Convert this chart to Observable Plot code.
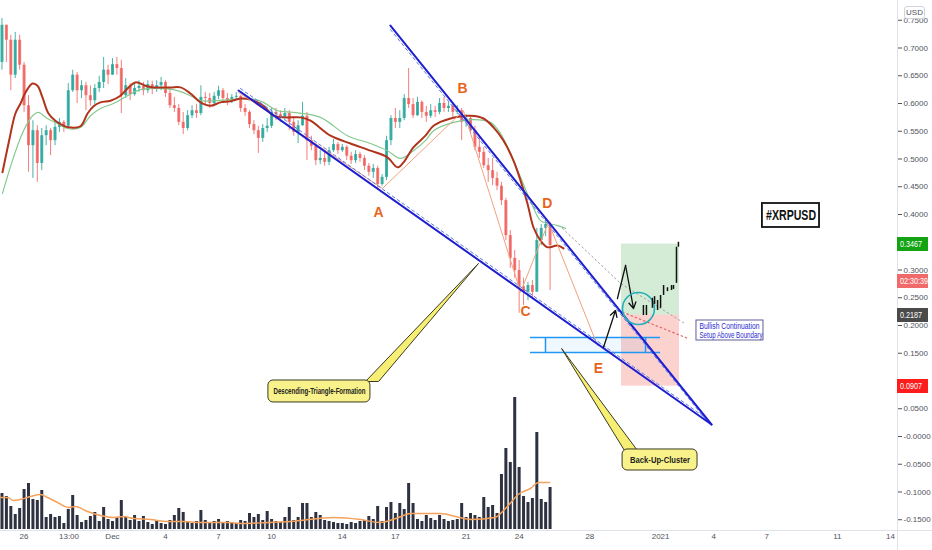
<!DOCTYPE html>
<html><head><meta charset="utf-8">
<script src="https://cdn.jsdelivr.net/npm/d3@7"></script>
<script src="https://cdn.jsdelivr.net/npm/@observablehq/plot@0.6"></script>
<style>
html,body{margin:0;padding:0;background:#fff;}
#wrap{position:relative;width:932px;height:550px;overflow:hidden;font-family:"Liberation Sans",Arial,sans-serif;}
#wrap svg{position:absolute;left:0;top:0;}
.tag{position:absolute;left:897px;width:31px;height:14px;line-height:14px;font-size:9px;color:#fff;padding-left:3px;box-sizing:border-box;white-space:nowrap;overflow:hidden;}
.tag span{display:inline-block;transform:scaleX(0.8);transform-origin:left center;}
.sep{position:absolute;background:#e0e3eb;}
</style></head><body><div id="wrap"></div>
<script>
// ---------- DATA ----------
const xDomain = ["2020-11-24T16:00Z", "2021-01-14T09:36Z"];
const yDomain = [-0.1694, 0.7856];
const yTicks = [-0.15,-0.1,-0.05,0,0.05,0.15,0.2,0.25,0.3,0.4,0.45,0.5,0.55,0.6,0.65,0.7,0.75];
const xTickDates = ["2020-11-26T00:00Z","2020-11-28T13:00Z","2020-12-01T00:00Z","2020-12-04T00:00Z","2020-12-07T00:00Z","2020-12-10T00:00Z","2020-12-14T00:00Z","2020-12-17T00:00Z","2020-12-21T00:00Z","2020-12-24T00:00Z","2020-12-28T00:00Z","2021-01-01T00:00Z","2021-01-04T00:00Z","2021-01-07T00:00Z","2021-01-11T00:00Z","2021-01-14T00:00Z"];
const xTickLabels = ["26","13:00","Dec","4","7","10","14","17","21","24","28","2021","4","7","11","14"];

// 6-hour candles starting at this time
const candleStart = "2020-11-24T18:00Z";
const candleHours = 6;
const firstOpen = 0.674;
const closes = [
0.741,0.714,0.651,0.714,0.669,0.596,0.524,0.551,0.492,0.542,
0.551,0.533,0.557,0.566,0.559,0.623,0.651,0.623,0.632,0.614,
0.605,0.627,0.638,0.660,0.651,0.670,0.663,0.614,0.632,0.616,
0.627,0.631,0.623,0.634,0.627,0.632,0.638,0.618,0.596,0.591,
0.566,0.555,0.578,0.587,0.582,0.611,0.609,0.600,0.613,0.623,
0.609,0.605,0.611,0.613,0.591,0.584,0.562,0.551,0.537,0.555,
0.559,0.584,0.580,0.575,0.582,0.566,0.548,0.560,0.577,0.533,
0.523,0.497,0.501,0.494,0.515,0.526,0.515,0.521,0.505,0.497,
0.508,0.501,0.487,0.476,0.483,0.454,0.467,0.533,0.573,0.566,
0.573,0.609,0.598,0.578,0.602,0.584,0.577,0.587,0.584,0.600,
0.591,0.595,0.584,0.587,0.566,0.573,0.551,0.521,0.512,0.488,
0.479,0.465,0.451,0.425,0.362,0.321,0.299,0.270,0.260,0.272,
0.260,0.353,0.375,0.382,0.344];
const highs = [
0.753,0.732,0.723,0.728,0.723,0.674,0.614,0.569,0.560,0.555,
0.560,0.555,0.569,0.573,0.569,0.636,0.660,0.656,0.641,0.638,
0.632,0.634,0.649,0.683,0.669,0.681,0.683,0.678,0.645,0.636,
0.638,0.641,0.638,0.641,0.640,0.641,0.647,0.641,0.627,0.611,
0.598,0.584,0.587,0.596,0.598,0.632,0.620,0.618,0.620,0.631,
0.627,0.618,0.616,0.620,0.614,0.598,0.587,0.569,0.559,0.562,
0.573,0.591,0.591,0.587,0.591,0.587,0.573,0.569,0.602,0.584,
0.541,0.528,0.515,0.512,0.521,0.535,0.530,0.526,0.524,0.512,
0.515,0.512,0.506,0.492,0.490,0.487,0.472,0.541,0.578,0.591,
0.587,0.616,0.663,0.609,0.611,0.605,0.595,0.598,0.595,0.609,
0.611,0.602,0.598,0.596,0.591,0.580,0.577,0.559,0.539,0.521,
0.501,0.501,0.476,0.458,0.429,0.371,0.335,0.317,0.285,0.278,
0.281,0.375,0.382,0.393,0.386];
const lows = [
0.660,0.674,0.623,0.645,0.660,0.584,0.476,0.465,0.458,0.479,
0.524,0.506,0.524,0.548,0.548,0.555,0.620,0.600,0.609,0.587,
0.595,0.598,0.620,0.627,0.634,0.651,0.651,0.582,0.609,0.605,
0.613,0.620,0.614,0.618,0.616,0.620,0.623,0.611,0.591,0.584,
0.560,0.544,0.551,0.573,0.573,0.578,0.598,0.591,0.595,0.607,
0.600,0.596,0.600,0.605,0.584,0.577,0.555,0.544,0.510,0.530,
0.548,0.555,0.569,0.566,0.569,0.551,0.541,0.528,0.559,0.497,
0.515,0.488,0.490,0.487,0.488,0.512,0.508,0.512,0.497,0.490,
0.492,0.494,0.479,0.469,0.465,0.445,0.451,0.461,0.524,0.555,
0.555,0.569,0.591,0.573,0.577,0.573,0.566,0.573,0.575,0.580,
0.584,0.584,0.573,0.580,0.533,0.557,0.544,0.515,0.501,0.483,
0.458,0.452,0.443,0.416,0.353,0.303,0.285,0.222,0.236,0.245,
0.249,0.260,0.344,0.360,0.263];
const volumes = [
72,66,46,30,42,80,92,60,58,78,
24,30,24,26,12,40,68,28,14,18,
26,34,16,44,20,16,24,58,24,18,
28,16,26,14,10,16,12,10,18,28,
42,34,16,12,16,38,18,14,16,20,
12,16,14,12,18,16,32,24,30,18,
36,20,16,14,24,44,18,24,52,52,
24,34,28,18,16,14,12,12,10,14,
12,16,18,26,20,46,16,44,54,32,
52,40,92,52,20,16,28,22,18,28,
20,16,18,20,52,24,32,28,24,64,
44,48,32,110,162,134,264,124,66,54,
62,194,60,54,84];

// moving averages: [days since 2020-12-01, value]
const maRed = [[-6.22,0.476],[-5.88,0.528],[-5.49,0.582],[-5.20,0.600],[-4.92,0.620],[-4.52,0.636],[-4.24,0.632],[-3.96,0.611],[-3.62,0.582],[-3.23,0.569],[-2.77,0.560],[-2.49,0.557],[-1.81,0.559],[-1.41,0.582],[-1.07,0.595],[-0.68,0.602],[-0.11,0.605],[0.45,0.614],[0.85,0.627],[1.30,0.638],[1.87,0.632],[2.32,0.629],[3.28,0.629],[3.85,0.629],[4.41,0.618],[4.98,0.602],[5.54,0.596],[6.11,0.602],[6.67,0.604],[7.24,0.609],[7.81,0.607],[8.54,0.596],[9.11,0.578],[9.79,0.575],[10.63,0.575],[11.20,0.569],[12.33,0.542],[13.46,0.528],[14.59,0.515],[15.55,0.503],[16.12,0.485],[16.46,0.494],[17.02,0.521],[17.70,0.542],[18.16,0.560],[19.12,0.573],[20.25,0.578],[20.98,0.573],[21.55,0.557],[22.12,0.533],[22.68,0.497],[23.08,0.461],[23.47,0.420],[23.81,0.377],[24.21,0.353],[24.60,0.341],[25.17,0.344],[25.51,0.339]];
const maGreen = [[-6.22,0.438],[-5.60,0.503],[-5.03,0.551],[-4.52,0.578],[-4.19,0.584],[-3.68,0.573],[-3.11,0.564],[-2.55,0.555],[-1.81,0.557],[-1.24,0.578],[-0.68,0.591],[0.06,0.600],[0.85,0.614],[1.58,0.625],[3.45,0.625],[4.41,0.614],[4.98,0.605],[5.71,0.605],[6.67,0.607],[7.81,0.609],[8.54,0.602],[9.33,0.587],[10.24,0.584],[11.76,0.575],[13.29,0.542],[14.59,0.528],[15.55,0.515],[16.29,0.501],[17.02,0.515],[17.70,0.533],[18.16,0.551],[19.29,0.566],[20.42,0.571],[21.38,0.566],[21.95,0.546],[22.51,0.510],[23.08,0.467],[23.64,0.425],[24.21,0.389],[24.66,0.384],[25.17,0.380],[25.62,0.375]];
const volMA = [[-6.33,64],[-5.94,64],[-5.60,58],[-5.20,60],[-4.64,66],[-4.07,70],[-3.68,64],[-3.11,54],[-2.49,44],[-2.09,46],[-1.41,36],[-0.68,28],[0.06,24],[0.62,26],[1.19,22],[2.15,20],[3.11,16],[4.02,16],[4.98,14],[5.94,14],[6.67,14],[7.24,12],[8.77,14],[10.07,16],[12.50,24],[14.03,20],[15.10,14],[16.18,24],[16.86,32],[18.55,32],[19.63,24],[20.31,20],[21.61,24],[22.23,42],[23.02,72],[23.64,82],[24.10,94],[24.72,94]];

// drawings (days since 2020-12-01, price)
const upperLine = [[15.72,0.7405],[33.88,0.0216]];
const upperDash = [[15.72,0.7333],[33.60,0.0288]];
const lowerLine = [[7.13,0.6234],[33.88,0.0216]];
const lowerDash = [[7.24,0.6270],[33.60,0.0324]];
const waveLine = [[7.13,0.620],[15.27,0.447],[19.85,0.587],[23.08,0.260],[24.66,0.386],[27.43,0.164]];
const grayProjection = [[25.45,0.375],[28.73,0.276],[32.30,0.205]];
const redProjection = [[28.62,0.227],[32.52,0.177]];
const waveLabels = [["A",15.05,0.4036],["B",19.80,0.6270],["C",23.36,0.2252],["D",24.60,0.4198],["E",27.49,0.1225]];
const cluster = {x1:23.64, x2:31.00, v1:24.49, v2:30.15, lo:0.1514, hi:0.1784};
const position = {d1:28.79, d2:32.07, stop:0.0907, entry:0.2187, target:0.3467};
const arrowUp = {d1:27.77, p1:0.1604, d2:28.45, p2:0.2270};
const swingLeg = [[28.56,0.2486],[29.02,0.3081]];
const arrowDown = {d1:29.02, p1:0.3081, d2:29.47, p2:0.2306};
const retestCircle = [29.75, 0.2306];
const projectedBars = [[30.03,0.218,0.236],[30.20,0.218,0.236],[30.54,0.231,0.249],[30.66,0.238,0.252],[30.83,0.227,0.245],[31.00,0.231,0.254],[31.17,0.254,0.272],[31.39,0.261,0.268],[31.62,0.263,0.272],[31.73,0.265,0.272],[31.90,0.276,0.341],[32.01,0.341,0.350]];
const calloutDesc = {text:"Descending-Triangle-Formation", d1:8.82, d2:14.59, p1:0.0613, p2:0.1009, td:11.71, tp:0.0811, wedge:[[14.31,0.0991],[20.70,0.3117],[15.05,0.0991],[14.31,0.0991]]};
const calloutBack = {text:"Back-Up-Cluster", d1:28.85, d2:33.09, p1:-0.0613, p2:-0.0234, td:30.97, tp:-0.0423, wedge:[[28.96,-0.0252],[25.40,0.1586],[29.69,-0.0252],[28.96,-0.0252]]};
const noteBox = {d1:33.03, d2:36.82, p1:0.1730, p2:0.2090};
const noteLines = [["Bullish Continuation",33.20,0.1982],["Setup Above Boundary",33.20,0.1829]];
const symbolBox = {text:"#XRPUSD", d1:36.76, d2:39.99, p1:0.3766, p2:0.4198, td:38.38, tp:0.3982};
const priceTags = [["0.3467",0.3467,"#13a313"],["02:30:39",0.2793,"#f06a6a"],["0.2187",0.2187,"#4a4a4a"],["0.0907",0.0907,"#ff1c1c"]];
// rendered widths (px) of the condensed annotation texts
const textWidths = {"#XRPUSD":50, "Descending-Triangle-Formation":92, "Back-Up-Cluster":60, "Bullish Continuation":60, "Setup Above Boundary":63};

// ---------- BUILD ----------
const T0 = Date.UTC(2020, 11, 1);
const D = d => new Date(T0 + d * 864e5);
const t0 = new Date(candleStart).getTime();
const candles = closes.map((c, i) => {
  const o = i === 0 ? firstOpen : closes[i - 1];
  return {date: new Date(t0 + i * candleHours * 36e5), o, c,
    h: Math.max(highs[i], o, c), l: Math.min(lows[i], o, c), v: volumes[i]};
});
const upC = candles.filter(d => d.c >= d.o), dnC = candles.filter(d => d.c < d.o);
const UP = "#26a69a", DN = "#ef5350";
const font = '"Liberation Sans",Arial,sans-serif';
const xs = {type: "utc", domain: xDomain.map(s => new Date(s))};
const px = d => D(d[0]), py = d => d[1];
const labelMap = new Map(xTickDates.map((s, i) => [new Date(s).getTime(), xTickLabels[i]]));

const volPlot = Plot.plot({
  width: 932, height: 550, marginLeft: 0, marginRight: 35, marginTop: 0, marginBottom: 21,
  style: {background: "transparent"},
  x: {...xs, axis: null}, y: {domain: [0, 1058], axis: null},
  marks: [
    Plot.ruleX(candles, {x: "date", y1: 0, y2: "v", stroke: "#2e3140", strokeWidth: 3}),
    Plot.line(volMA, {x: px, y: py, stroke: "#f5a25d", strokeWidth: 1.5, curve: "monotone-x"})
  ]
});

const line = (pts, o) => Plot.line(pts, {x: px, y: py, ...o});
const price = Plot.plot({
  width: 932, height: 550, marginLeft: 0, marginRight: 35, marginTop: 0, marginBottom: 20,
  style: {background: "transparent", fontFamily: font, overflow: "visible"},
  x: xs, y: {domain: yDomain},
  marks: [
    Plot.rect([position], {x1: d => D(d.d1), x2: d => D(d.d2), y1: "entry", y2: "target", fill: "#4caf50", fillOpacity: 0.24}),
    Plot.rect([position], {x1: d => D(d.d1), x2: d => D(d.d2), y1: "stop", y2: "entry", fill: "#f44336", fillOpacity: 0.24}),
    Plot.rect([cluster], {x1: d => D(d.v1), x2: d => D(d.v2), y1: "lo", y2: "hi", fill: "#2196f3", fillOpacity: 0.07}),
    Plot.ruleY([cluster.lo, cluster.hi], {x1: D(cluster.x1), x2: D(cluster.x2), stroke: "#2196f3", strokeWidth: 1.5}),
    Plot.ruleX([D(cluster.v1), D(cluster.v2)], {y1: cluster.lo, y2: cluster.hi, stroke: "#2196f3", strokeWidth: 1.5}),
    Plot.ruleX(upC, {x: "date", y1: "l", y2: "h", stroke: UP, strokeWidth: 1, strokeOpacity: 0.85}),
    Plot.ruleX(dnC, {x: "date", y1: "l", y2: "h", stroke: DN, strokeWidth: 1, strokeOpacity: 0.75}),
    Plot.ruleX(upC, {x: "date", y1: "o", y2: "c", stroke: UP, strokeWidth: 3, strokeOpacity: 0.85}),
    Plot.ruleX(dnC, {x: "date", y1: "o", y2: "c", stroke: DN, strokeWidth: 3, strokeOpacity: 0.75}),
    line(maGreen, {stroke: "#86c98f", strokeWidth: 1.2, curve: "catmull-rom"}),
    line(maRed, {stroke: "#b0341c", strokeWidth: 2, curve: "catmull-rom"}),
    line(waveLine, {stroke: "#f2a17e", strokeWidth: 1}),
    line(grayProjection, {stroke: "#9e9e9e", strokeWidth: 1, strokeDasharray: "1.5,3"}),
    line(redProjection, {stroke: "#e06666", strokeWidth: 1.2, strokeDasharray: "1.5,3"}),
    line(upperDash, {stroke: "#5b7be8", strokeWidth: 1, strokeDasharray: "3,3"}),
    line(lowerDash, {stroke: "#5b7be8", strokeWidth: 1, strokeDasharray: "3,3"}),
    line(upperLine, {stroke: "#1f1fd0", strokeWidth: 2}),
    line(lowerLine, {stroke: "#1f1fd0", strokeWidth: 2}),
    Plot.arrow([arrowUp], {x1: d => D(d.d1), y1: "p1", x2: d => D(d.d2), y2: "p2", stroke: "#111", strokeWidth: 1.3, headLength: 8}),
    line(swingLeg, {stroke: "#111", strokeWidth: 1.3}),
    Plot.arrow([arrowDown], {x1: d => D(d.d1), y1: "p1", x2: d => D(d.d2), y2: "p2", stroke: "#111", strokeWidth: 1.3, headLength: 8}),
    Plot.dot([retestCircle], {x: px, y: py, r: 16, stroke: "#22aebb", strokeWidth: 1.6, fill: "none"}),
    Plot.ruleX(projectedBars, {x: px, y1: d => d[1], y2: d => d[2], stroke: "#111", strokeWidth: 1.5}),
    ...[calloutDesc, calloutBack].flatMap(c => [
      line(c.wedge, {fill: "#f7ee74", stroke: "#3a3a24", strokeWidth: 1}),
      Plot.rect([c], {x1: d => D(d.d1), x2: d => D(d.d2), y1: "p1", y2: "p2", fill: "#f9f28a", stroke: "#3a3a24", strokeWidth: 1, rx: 5}),
      Plot.text([c], {x: d => D(d.td), y: "tp", text: "text", fontSize: 8.5, fontWeight: "bold", fill: "#222"})
    ]),
    Plot.rect([noteBox], {x1: d => D(d.d1), x2: d => D(d.d2), y1: "p1", y2: "p2", fill: "#fff", stroke: "#5c5c9a", strokeWidth: 1}),
    Plot.text(noteLines, {x: d => D(d[1]), y: d => d[2], text: d => d[0], textAnchor: "start", fontSize: 8.5, fill: "#2a2ad0"}),
    Plot.rect([symbolBox], {x1: d => D(d.d1), x2: d => D(d.d2), y1: "p1", y2: "p2", fill: "#fff", stroke: "#111", strokeWidth: 1.8}),
    Plot.text([symbolBox], {x: d => D(d.td), y: "tp", text: "text", fontSize: 15, fontWeight: "bold", fill: "#111"}),
    Plot.text(waveLabels, {x: d => D(d[1]), y: d => d[2], text: d => d[0], fontSize: 14, fontWeight: "bold", fill: "#e8651c"}),
    Plot.axisX(xTickDates.map(s => new Date(s)), {tickSize: 0, tickPadding: 3, tickFormat: d => labelMap.get(+d), fontSize: 8, color: "#50535e", label: null}),
    Plot.axisY(yTicks, {anchor: "right", tickSize: 4, tickPadding: 2, textAnchor: "start", tickFormat: d => d <= 0 ? "-" + Math.abs(d).toFixed(4) : d.toFixed(4), fontSize: 8, color: "#50535e", label: null})
  ]
});
price.querySelectorAll("text").forEach(t => {
  const w = textWidths[t.textContent];
  if (w) { t.setAttribute("textLength", w); t.setAttribute("lengthAdjust", "spacingAndGlyphs"); }
});

const wrap = document.getElementById("wrap");
wrap.appendChild(volPlot);
const sv = document.createElement("div"); sv.className = "sep";
sv.style.cssText = "left:897px;top:0;width:1px;height:550px;"; wrap.appendChild(sv);
const sh = document.createElement("div"); sh.className = "sep";
sh.style.cssText = "left:0;top:530px;width:932px;height:1px;"; wrap.appendChild(sh);
wrap.appendChild(price);
const yScale = price.scale("y");
for (const [label, p, bg] of priceTags) {
  const t = document.createElement("div");
  t.className = "tag"; t.style.background = bg;
  t.style.top = (yScale.apply(p) - 7) + "px";
  const s = document.createElement("span"); s.textContent = label; t.appendChild(s);
  wrap.appendChild(t);
}
const usd = document.createElement("div");
usd.textContent = "USD";
usd.style.cssText = "position:absolute;left:904px;top:6px;width:21px;height:13px;line-height:12px;border:1px solid #d1d4dc;border-radius:3px;background:#fff;font-size:8px;color:#50535e;text-align:center;box-sizing:border-box;";
wrap.appendChild(usd);
</script></body></html>
